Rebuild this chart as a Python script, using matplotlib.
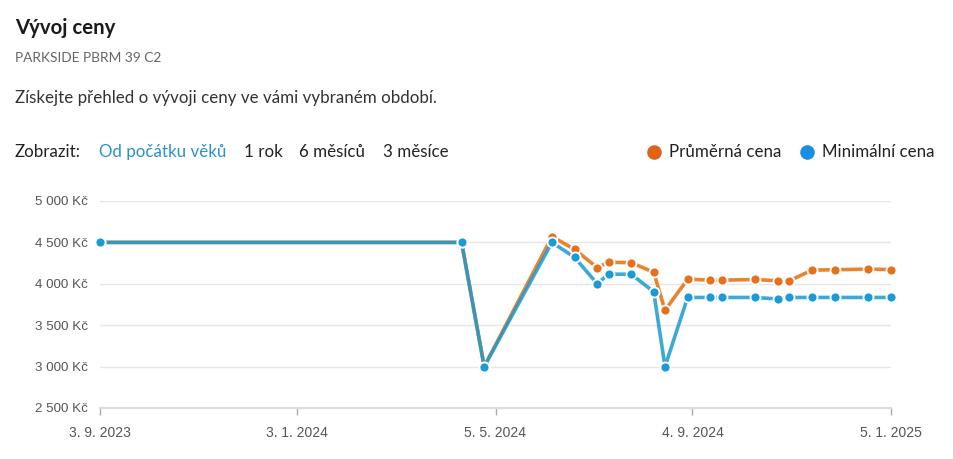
import matplotlib
matplotlib.use("Agg")
import matplotlib.pyplot as plt
from matplotlib.lines import Line2D
from datetime import date

# ---- data ----
dates = ["2023-09-03", "2024-04-14", "2024-04-28", "2024-06-09", "2024-06-23",
         "2024-07-07", "2024-07-14", "2024-07-28", "2024-08-11", "2024-08-18",
         "2024-09-01", "2024-09-15", "2024-09-22", "2024-10-13", "2024-10-27",
         "2024-11-03", "2024-11-17", "2024-12-01", "2024-12-22", "2025-01-05"]
avg_price = [4500, 4500, 3000, 4570, 4416, 4196, 4260, 4255, 4140, 3679,
             4056, 4044, 4044, 4052, 4036, 4036, 4165, 4170, 4177, 4172]
min_price = [4500, 4500, 3000, 4500, 4320, 4000, 4116, 4116, 3904, 3000,
             3835, 3835, 3835, 3835, 3816, 3835, 3835, 3835, 3835, 3835]
x_tick_dates = ["2023-09-03", "2024-01-03", "2024-05-05", "2024-09-04", "2025-01-05"]
x_tick_labels = ["3. 9. 2023", "3. 1. 2024", "5. 5. 2024", "4. 9. 2024", "5. 1. 2025"]
y_ticks = [2500, 3000, 3500, 4000, 4500, 5000]
y_tick_labels = ["2 500 Kč", "3 000 Kč", "3 500 Kč", "4 000 Kč", "4 500 Kč", "5 000 Kč"]
series_names = ["Průměrná cena", "Minimální cena"]
periods = ["Od počátku věků", "1 rok", "6 měsíců", "3 měsíce"]

W, H = 954, 459
plt.rcParams['font.family'] = ['Lato', 'DejaVu Sans']
fig = plt.figure(figsize=(W / 100, H / 100), dpi=100)

def fx(x):
    return x / W

def fy(y):
    return 1 - y / H

ax = fig.add_axes([fx(100), fy(408), fx(891) - fx(100), fy(201) - fy(408)])

d = [date.fromisoformat(s) for s in dates]
orange_line = "#e8842f"
orange_mark = "#e8701c"
blue_line = "#1b9ad2"
blue_mark = "#1a9ad6"

ax.plot(d, avg_price, color=orange_line, lw=2.6, zorder=3, clip_on=False,
        solid_capstyle='round')
ax.plot(d, min_price, color=blue_line, lw=2.6, alpha=0.85, zorder=4, clip_on=False,
        solid_capstyle='round')
ax.plot(d, avg_price, ls='none', marker='o', ms=7.2, mfc=orange_mark, mec='white',
        mew=1.3, zorder=5, clip_on=False)
ax.plot(d, min_price, ls='none', marker='o', ms=7.2, mfc=blue_mark, mec='white',
        mew=1.3, zorder=6, clip_on=False)

ax.set_xlim(d[0], d[-1])
ax.set_ylim(2500, 5000)
ax.set_yticks(y_ticks)
ax.set_yticklabels(y_tick_labels, family=['Liberation Sans'], fontsize=9.6, color='#555555')
xt = [date.fromisoformat(s) for s in x_tick_dates]
ax.set_xticks(xt)
ax.set_xticklabels(x_tick_labels, family=['Liberation Sans'], fontsize=10, color='#555555')
ax.tick_params(axis='y', length=0, pad=8.5)
ax.tick_params(axis='x', length=5, width=1, color='#aaaaaa', pad=8, direction='out')
ax.grid(axis='y', color='#e6e6e6', lw=1)
ax.set_axisbelow(True)
for s in ['top', 'right', 'left']:
    ax.spines[s].set_visible(False)
ax.spines['bottom'].set_color('#dddddd')
ax.spines['bottom'].set_linewidth(1.6)

# ---- texts ----
fs = 12.2
fig.text(fx(15), fy(28), "Vývoj ceny", fontsize=14.7, fontweight='bold', color='#1a1a1a',
         va='center', ha='left')
fig.text(fx(15), fy(58), "PARKSIDE PBRM 39 C2", fontsize=9.9, color='#666666',
         va='center', ha='left')
fig.text(fx(15), fy(98), "Získejte přehled o vývoji ceny ve vámi vybraném období.",
         fontsize=fs, color='#333333', va='center', ha='left')
fig.text(fx(15), fy(152), "Zobrazit:", fontsize=fs, color='#222222', va='center', ha='left')
period_x = [99, 244, 299, 383]
for i, (p, px) in enumerate(zip(periods, period_x)):
    fig.text(fx(px), fy(152), p, fontsize=fs, color='#2b8fd0' if i == 0 else '#222222',
             va='center', ha='left')

fig.add_artist(Line2D([fx(654)], [fy(152)], transform=fig.transFigure, marker='o',
                      ms=10.5, mfc='#e0631a', mec='none', ls='none'))
fig.text(fx(669), fy(152), series_names[0], fontsize=fs, color='#222222', va='center', ha='left')
fig.add_artist(Line2D([fx(807)], [fy(152)], transform=fig.transFigure, marker='o',
                      ms=10.5, mfc='#1a8fe0', mec='none', ls='none'))
fig.text(fx(822), fy(152), series_names[1], fontsize=fs, color='#222222', va='center', ha='left')

fig.savefig("out.png", dpi=100)
